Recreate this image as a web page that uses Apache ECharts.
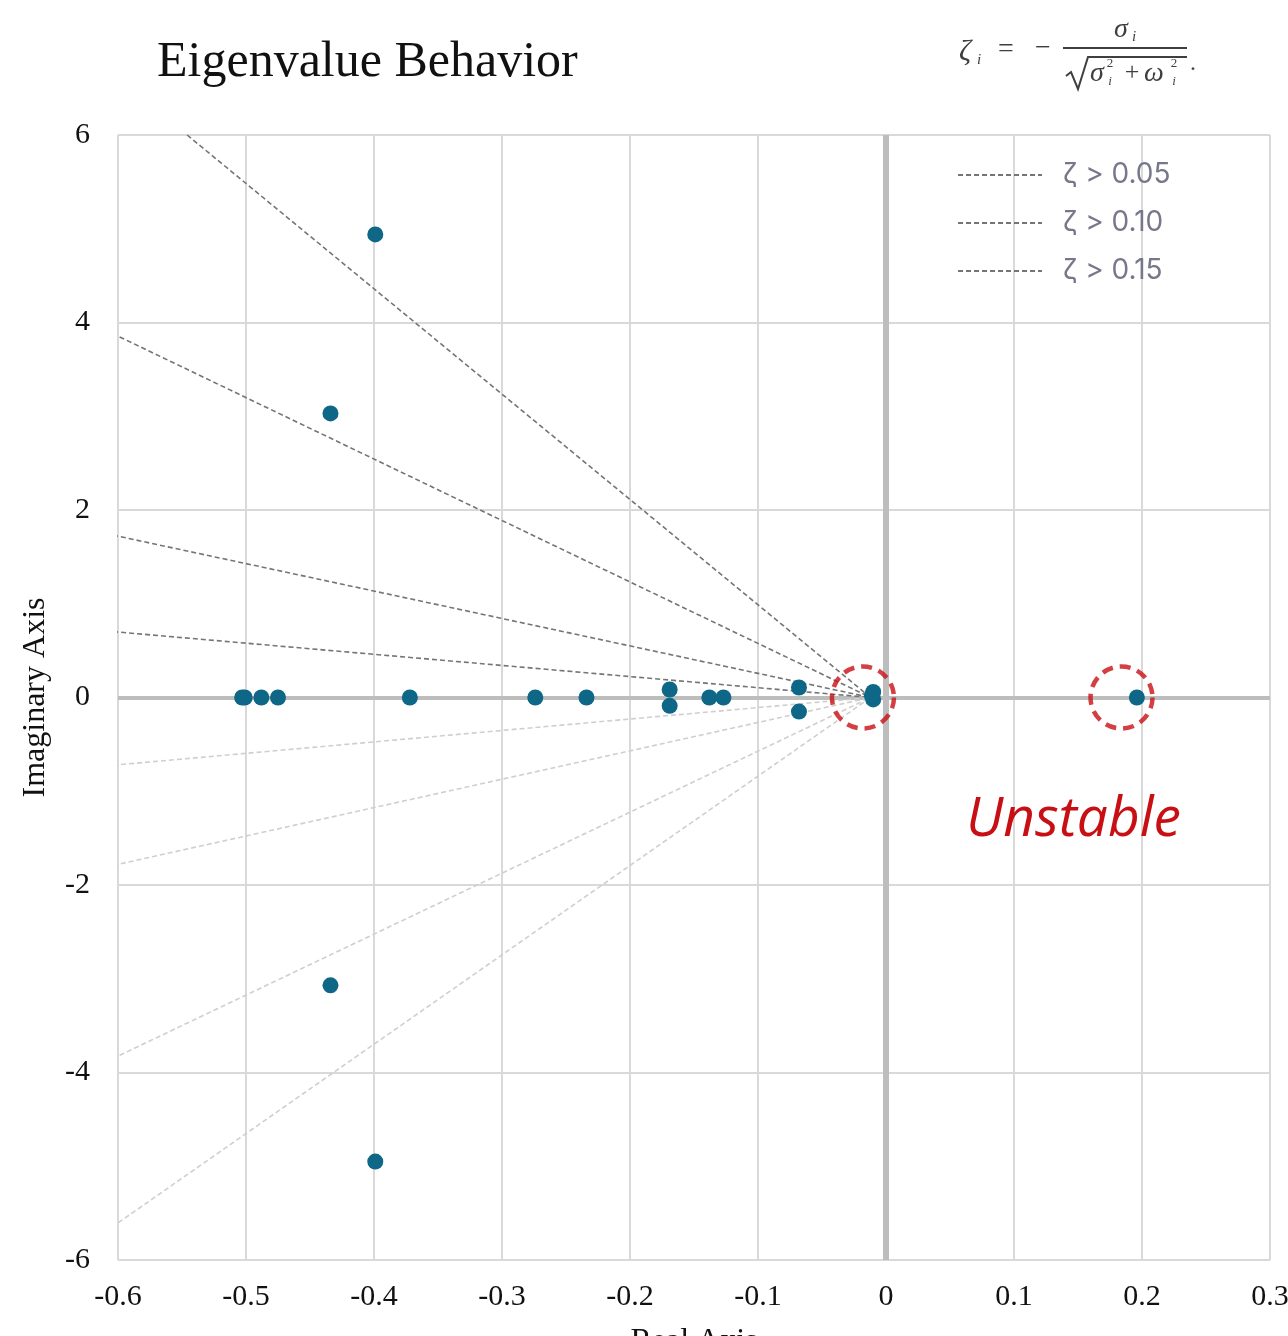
<!DOCTYPE html>
<html>
<head>
<meta charset="utf-8">
<script src="https://cdn.jsdelivr.net/npm/echarts@6/dist/echarts.min.js"></script>
<style>
html,body{margin:0;padding:0;background:#fff;}
#chart{width:1288px;height:1336px;}
</style>
</head>
<body>
<div id="chart"></div>
<script>
// ---- data ----
const titleText = 'Eigenvalue Behavior';
const xAxisName = 'Real Axis';
const yAxisName = 'Imaginary Axis';
const xTicks = { min: -0.6, max: 0.3, interval: 0.1 };
const yTicks = { min: -6, max: 6, interval: 2 };

// eigenvalues (real, imaginary)
const eigReal = [-0.503, -0.501, -0.488, -0.475, -0.372, -0.274, -0.234, -0.169, -0.169, -0.138, -0.127,
                 -0.068, -0.068, -0.010, -0.010, -0.011, 0.196,
                 -0.399, -0.434, -0.434, -0.399];
const eigImag = [0, 0, 0, 0, 0, 0, 0, 0.085, -0.089, 0, 0,
                 0.107, -0.15, 0.06, -0.02, 0.02, 0,
                 4.94, 3.03, -3.07, -4.95];

// damping-ratio guide rays: common origin and far ends
const rayOrigin = [-0.012, 0];
const zetaLabels = ['ζ > 0.05', 'ζ > 0.10', 'ζ > 0.15'];
const upperRayEnds = [[-0.546, 6], [-0.61, 3.92], [-0.61, 1.75], [-0.61, 0.71]];
const lowerRayEnds = [[-0.61, -5.70], [-0.61, -3.89], [-0.61, -1.81], [-0.61, -0.73]];

// highlighted (unstable) eigenvalue regions
const unstableReal = [-0.018, 0.184];
const unstableImag = [0, 0];
const annotationText = 'Unstable';

// ---- build ----
const points = eigReal.map((x, i) => [x, eigImag[i]]);
const circles = unstableReal.map((x, i) => [x, unstableImag[i]]);

const series = [];
upperRayEnds.forEach((end, i) => {
  series.push({
    name: i < zetaLabels.length ? zetaLabels[i] : 'ray-up-' + i,
    type: 'line', symbol: 'none', clip: false, silent: true, z: 2,
    data: [end, rayOrigin],
    itemStyle: { color: '#757575' },
    lineStyle: { color: '#757575', width: 1.6, type: [5, 3] }
  });
});
lowerRayEnds.forEach((end, i) => {
  series.push({
    name: 'ray-low-' + i,
    type: 'line', symbol: 'none', clip: false, silent: true, z: 2,
    data: [end, rayOrigin],
    itemStyle: { color: '#cfcfcf' },
    lineStyle: { color: '#cfcfcf', width: 1.6, type: [5, 3] }
  });
});
series.push({
  name: 'eigenvalues', type: 'scatter', z: 4,
  symbolSize: 16, data: points,
  itemStyle: { color: '#0e6786', opacity: 1 },
  markLine: {
    silent: true, symbol: 'none', label: { show: false }, z: 1,
    data: [
      { xAxis: 0, lineStyle: { color: '#bdbdbd', width: 6, type: 'solid' } },
      { yAxis: 0, lineStyle: { color: '#bdbdbd', width: 4, type: 'solid' } }
    ]
  }
});
series.push({
  name: 'unstable', type: 'scatter', z: 5, silent: true,
  symbol: 'circle', symbolSize: 62, data: circles,
  itemStyle: { color: 'rgba(0,0,0,0)', borderColor: '#c80f14', borderWidth: 4.5, borderType: [11, 7] }
});

const fCol = '#3f3f3f';
const fFont = 'Liberation Serif';
function ft(x, y, t, size, italic) {
  return { type: 'text', x: x, y: y, style: { text: t, fill: fCol, font: (italic ? 'italic ' : '') + size + 'px "' + fFont + '"', textAlign: 'center', textVerticalAlign: 'middle' } };
}

const chart = echarts.init(document.getElementById('chart'), null, { renderer: 'canvas' });
chart.setOption({
  backgroundColor: '#ffffff',
  animation: false,
  title: {
    text: titleText, left: 152, top: 33,
    textStyle: { fontFamily: 'Liberation Serif', fontSize: 50, fontWeight: 'normal', color: '#111' }
  },
  legend: {
    data: zetaLabels,
    orient: 'vertical', left: 957, top: 161, padding: 0,
    itemWidth: 84, itemHeight: 14, itemGap: 20,
    itemStyle: { opacity: 0 },
    textStyle: { color: '#77778b', fontFamily: 'Inter', fontSize: 28, lineHeight: 28, padding: [0, 0, 0, 16] },
    selectedMode: false
  },
  grid: { left: 118, right: 18, top: 135, bottom: 76, containLabel: false, outerBoundsMode: 'none' },
  xAxis: {
    type: 'value', min: xTicks.min, max: xTicks.max, interval: xTicks.interval,
    name: xAxisName, nameLocation: 'middle', nameGap: 66,
    nameTextStyle: { fontFamily: 'Liberation Serif', fontSize: 32, color: '#111' },
    axisLine: { show: false }, axisTick: { show: false },
    axisLabel: { margin: 22, fontFamily: 'Liberation Serif', fontSize: 30, color: '#111',
      formatter: v => (Math.round(v * 10) / 10).toString() },
    splitLine: { show: true, lineStyle: { color: '#d9d9d9', width: 2 } }
  },
  yAxis: {
    type: 'value', min: yTicks.min, max: yTicks.max, interval: yTicks.interval,
    name: yAxisName, nameLocation: 'middle', nameGap: 66,
    nameTextStyle: { fontFamily: 'Liberation Serif', fontSize: 32, color: '#111' },
    axisLine: { show: false }, axisTick: { show: false },
    axisLabel: { margin: 28, fontFamily: 'Liberation Serif', fontSize: 30, color: '#111' },
    splitLine: { show: true, lineStyle: { color: '#d9d9d9', width: 2 } }
  },
  series: series,
  graphic: [
    { type: 'text', x: 966, y: 820, z: 10,
      style: { text: annotationText, fill: '#c80f14', font: 'italic 55px "Open Sans"', textAlign: 'left', textVerticalAlign: 'middle' } },
    // formula: zeta_i = - sigma_i / sqrt(sigma_i^2 + omega_i^2).
    ft(965, 52, 'ζ', 30, true),
    ft(979, 60, 'i', 15, true),
    ft(1006, 50, '=', 28, false),
    ft(1043, 49, '−', 28, false),
    ft(1121, 30, 'σ', 28, true),
    ft(1134, 37, 'i', 15, true),
    { type: 'line', shape: { x1: 1063, y1: 48, x2: 1187, y2: 48 }, style: { stroke: fCol, lineWidth: 2 } },
    { type: 'polyline', shape: { points: [[1066, 76], [1071, 72], [1078, 89], [1088, 57], [1187, 57]] }, style: { stroke: fCol, lineWidth: 2, fill: null } },
    ft(1097, 74, 'σ', 28, true),
    ft(1110, 64, '2', 13, false),
    ft(1110, 82, 'i', 13, true),
    ft(1132, 73, '+', 26, false),
    ft(1154, 74, 'ω', 28, true),
    ft(1174, 64, '2', 13, false),
    ft(1174, 82, 'i', 13, true),
    ft(1193, 64, '.', 24, false)
  ]
});
</script>
</body>
</html>
